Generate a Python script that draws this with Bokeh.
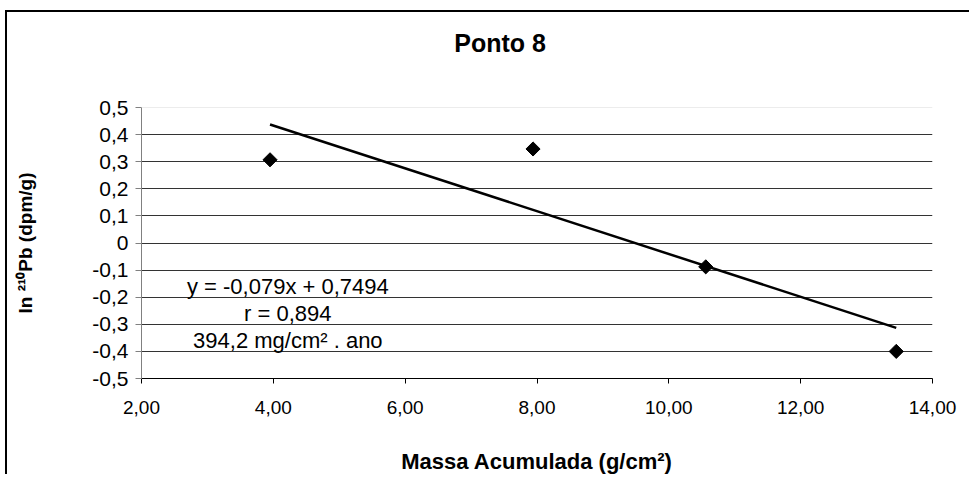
import math
from bokeh.plotting import figure
from bokeh.models import (FixedTicker, CustomJSTickFormatter, Label, Span,
                          ColumnDataSource, LinearAxis)
from bokeh.embed import file_html
from bokeh.resources import INLINE

# ---- data ----
title_text = "Ponto 8"
x_title = "Massa Acumulada (g/cm²)"
y_title = "ln ²¹⁰Pb (dpm/g)"
massa = [3.95, 7.94, 10.56, 13.45]
ln_pb = [0.307, 0.347, -0.088, -0.400]
slope = -0.079
intercept = 0.7494
x_ticks = [2, 4, 6, 8, 10, 12, 14]
y_ticks = [-0.5, -0.4, -0.3, -0.2, -0.1, 0.0, 0.1, 0.2, 0.3, 0.4, 0.5]
eq_lines = ["y = -0,079x + 0,7494", "r = 0,894", "394,2 mg/cm² . ano"]
eq_x = [4.22, 4.22, 4.22]
eq_y = [-0.161, -0.261, -0.360]
title_at = 7.44   # x position (axis units) over which the chart title is centred

FONT = "Liberation Sans"

p = figure(width=964, height=464, x_range=(2, 14), y_range=(-0.5, 0.5),
           output_backend="svg", toolbar_location=None,
           min_border_left=134, min_border_right=39,
           min_border_top=95, min_border_bottom=97)
p.outline_line_color = None
p.background_fill_color = "white"
p.border_fill_color = "white"
p.styles = {"border-left": "2px solid black", "border-top": "2px solid black",
            "margin-left": "5px", "margin-top": "10px"}

# chart title, carried by the single label of an otherwise invisible top axis
ta = LinearAxis(ticker=FixedTicker(ticks=[title_at]),
                formatter=CustomJSTickFormatter(args=dict(t=title_text), code="return t;"))
ta.axis_line_color = None
ta.major_tick_line_color = None
ta.minor_tick_line_color = None
ta.major_tick_out = 0
ta.major_tick_in = 0
ta.major_label_standoff = 51
ta.major_label_text_font = FONT
ta.major_label_text_font_style = "bold"
ta.major_label_text_font_size = "25px"
ta.major_label_text_color = "black"
p.add_layout(ta, "above")

# grid
p.xgrid.grid_line_color = None
p.ygrid.ticker = FixedTicker(ticks=[t for t in y_ticks if abs(t) < 0.45])
p.ygrid.grid_line_color = "#333333"
p.ygrid.grid_line_width = 1
p.add_layout(Span(location=y_ticks[-1], dimension="width",
                  line_color="#d9d9d9", line_width=1))

# x axis
xa = p.below[0]
xa.ticker = FixedTicker(ticks=x_ticks)
xa.formatter = CustomJSTickFormatter(code="return tick.toFixed(2).replace('.', ',');")
xa.axis_line_color = "black"
xa.major_tick_line_color = "black"
xa.major_tick_out = 5
xa.major_tick_in = 0
xa.minor_tick_line_color = None
xa.major_label_text_font = FONT
xa.major_label_text_font_size = "19px"
xa.major_label_text_color = "black"
xa.major_label_standoff = 17
xa.axis_label = x_title
xa.axis_label_text_font = FONT
xa.axis_label_text_font_style = "bold"
xa.axis_label_text_font_size = "22px"
xa.axis_label_text_color = "black"
xa.axis_label_standoff = 32

# y axis
ya = p.left[0]
ya.ticker = FixedTicker(ticks=y_ticks)
ya.formatter = CustomJSTickFormatter(
    code="if (Math.abs(tick) < 1e-9) return '0'; return tick.toFixed(1).replace('.', ',');")
ya.axis_line_color = "#808080"
ya.major_tick_line_color = "#808080"
ya.major_tick_out = 6
ya.major_tick_in = 0
ya.minor_tick_line_color = None
ya.major_label_text_font = FONT
ya.major_label_text_font_size = "21px"
ya.major_label_text_color = "black"
ya.major_label_standoff = 7
ya.axis_label = y_title
ya.axis_label_text_font = FONT
ya.axis_label_text_font_style = "bold"
ya.axis_label_text_font_size = "19px"
ya.axis_label_text_color = "black"
ya.axis_label_standoff = 53

# trend line
x0, x1 = min(massa), max(massa)
trend = ColumnDataSource(dict(x=[x0, x1], y=[slope * x0 + intercept, slope * x1 + intercept]))
p.line("x", "y", source=trend, line_color="black", line_width=2.5)

# points
pts = ColumnDataSource(dict(x=massa, y=ln_pb))
p.scatter("x", "y", source=pts, marker="square", angle=math.pi / 4, size=10,
          fill_color="black", line_color="black")

# equation texts
for t, xx, yy in zip(eq_lines, eq_x, eq_y):
    p.add_layout(Label(x=xx, y=yy, text=t, text_align="center", text_baseline="middle",
                       text_font=FONT, text_font_size="22px", text_color="black"))

open("out.html", "w").write(file_html(p, INLINE))
